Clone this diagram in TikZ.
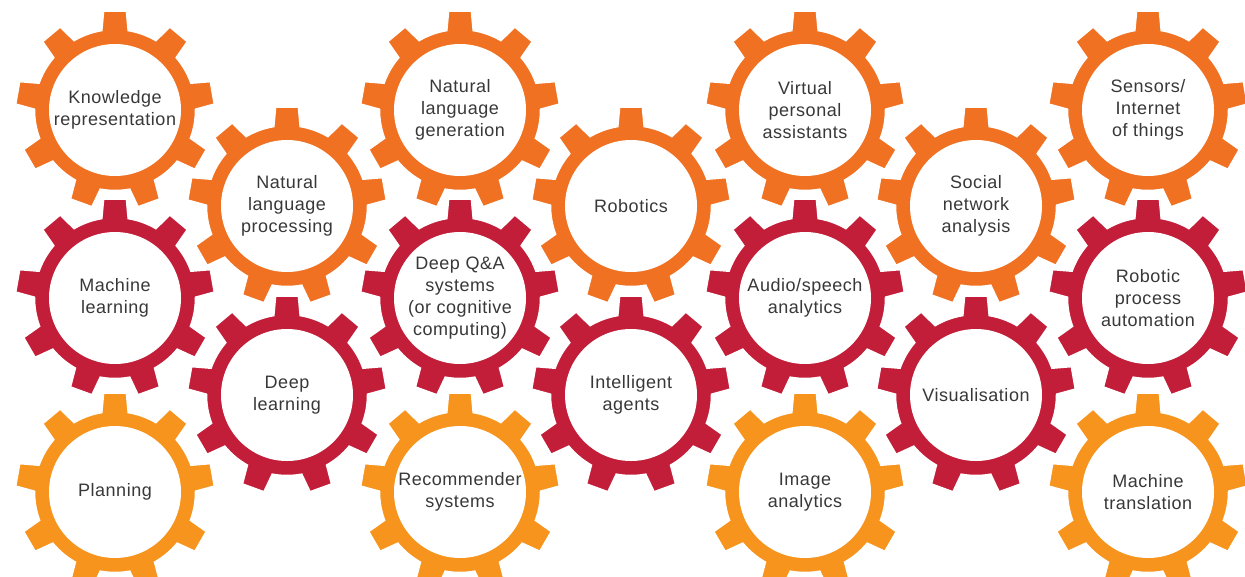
\documentclass[tikz,border=0pt]{standalone}
\usepackage{fontspec}
\newfontfamily\lblfont[LetterSpace=3]{Liberation Sans}
\definecolor{gOrange}{HTML}{F07122}
\definecolor{gRed}{HTML}{C31E39}
\definecolor{gLight}{HTML}{F7941D}
\definecolor{gText}{HTML}{383838}
\tikzset{
  gearlabel/.style={align=center, font=\lblfont\fontsize{18}{22}\selectfont, text=gText, inner sep=0pt},
  gearbody/.style={draw=white, line width=2.5pt},
}
\newcommand\gearshape[3]{%
  \begin{scope}[shift={(#1pt,-#2pt)}]
    \filldraw[gearbody, fill=#3]
      (80.3:81pt)
      \foreach \k in {0,...,8}{
        -- ({90+40*\k-6.8}:100pt) -- ({90+40*\k+6.8}:100pt) -- ({90+40*\k+9.7}:81pt)
        arc[start angle={90+40*\k+9.7}, end angle={90+40*\k+30.3}, radius=81pt]
      } -- cycle;
    \fill[white] (0pt,0pt) circle[radius=66pt];
  \end{scope}}
\begin{document}
\begin{tikzpicture}
\useasboundingbox (0pt,0pt) rectangle (1245pt,-576pt);
\fill[white] (0pt,0pt) rectangle (1245pt,-576pt);
% rows 1 and 2 (orange)
\gearshape{115}{110}{gOrange}
\gearshape{460}{110}{gOrange}
\gearshape{805}{110}{gOrange}
\gearshape{1148}{110}{gOrange}
\gearshape{287}{206}{gOrange}
\gearshape{631}{206}{gOrange}
\gearshape{976}{206}{gOrange}
% rows 3 and 4 (red)
\gearshape{115}{298}{gRed}
\gearshape{460}{298}{gRed}
\gearshape{805}{298}{gRed}
\gearshape{1148}{298}{gRed}
\gearshape{287}{395}{gRed}
\gearshape{631}{395}{gRed}
\gearshape{976}{395}{gRed}
% row 5 (light orange)
\gearshape{115}{492}{gLight}
\gearshape{460}{492}{gLight}
\gearshape{805}{492}{gLight}
\gearshape{1148}{492}{gLight}
% labels
\node[gearlabel] (kr)  at (115pt,-110pt) {Knowledge\\representation};
\node[gearlabel] (nlg) at (460pt,-110pt) {Natural\\language\\generation};
\node[gearlabel] (vpa) at (805pt,-110pt) {Virtual\\personal\\assistants};
\node[gearlabel] (iot) at (1148pt,-110pt) {Sensors/\\Internet\\of things};
\node[gearlabel] (nlp) at (287pt,-206pt) {Natural\\language\\processing};
\node[gearlabel] (rob) at (631pt,-206pt) {Robotics};
\node[gearlabel] (sna) at (976pt,-206pt) {Social\\network\\analysis};
\node[gearlabel] (ml)  at (115pt,-298pt) {Machine\\learning};
\node[gearlabel] (dqa) at (460pt,-298pt) {Deep Q\&A\\systems\\(or cognitive\\computing)};
\node[gearlabel] (asa) at (805pt,-298pt) {Audio/speech\\analytics};
\node[gearlabel] (rpa) at (1148pt,-298pt) {Robotic\\process\\automation};
\node[gearlabel] (dl)  at (287pt,-395pt) {Deep\\learning};
\node[gearlabel] (ia)  at (631pt,-395pt) {Intelligent\\agents};
\node[gearlabel] (vis) at (976pt,-395pt) {Visualisation};
\node[gearlabel] (pl)  at (115pt,-492pt) {Planning};
\node[gearlabel] (rs)  at (460pt,-492pt) {Recommender\\systems};
\node[gearlabel] (img) at (805pt,-492pt) {Image\\analytics};
\node[gearlabel] (mt)  at (1148pt,-492pt) {Machine\\translation};
\end{tikzpicture}
\end{document}
